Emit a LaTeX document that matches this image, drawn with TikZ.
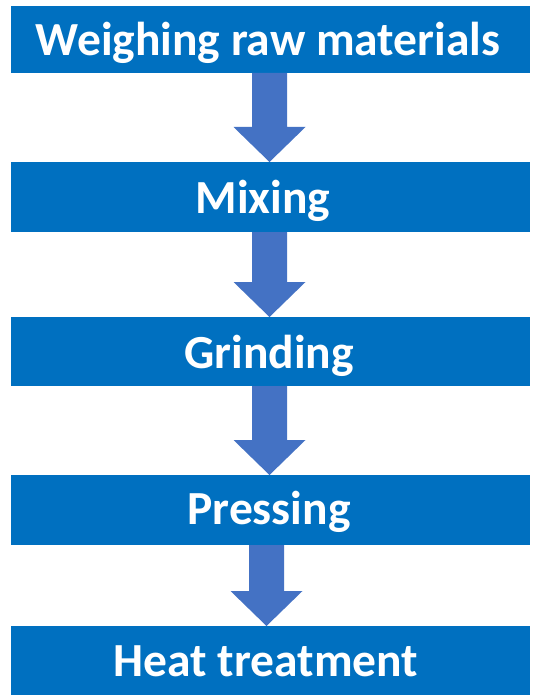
\documentclass[tikz,border=0pt]{standalone}
\usepackage{fontspec}
\setmainfont{Carlito}
\usetikzlibrary{calc}
\definecolor{boxblue}{HTML}{0070C0}
\definecolor{arrowblue}{HTML}{4472C4}
\tikzset{
  x=1pt, y=-1pt,
  stepbox/.style={fill=boxblue, draw=none, minimum width=519pt, inner sep=0pt, outer sep=0pt},
  steptext/.style={text=white, font=\bfseries\fontsize{47.5}{52}\selectfont, inner sep=0pt, anchor=base},
  flowarrow/.style={fill=arrowblue, draw=none}
}
% #1 from node, #2 to node, #3 x offset of arrow axis from box centre
\newcommand{\flowarr}[3]{%
  \fill[flowarrow]
    ($(#1.south)+(#3-17.5,0)$) -- ($(#1.south)+(#3+17.5,0)$)
    -- ($(#2.north)+(#3+17.5,-35)$) -- ($(#2.north)+(#3+36,-35)$)
    -- ($(#2.north)+(#3,0)$)
    -- ($(#2.north)+(#3-36,-35)$) -- ($(#2.north)+(#3-17.5,-35)$) -- cycle;}
\begin{document}
\begin{tikzpicture}
\useasboundingbox (0,0) rectangle (536,695);
\fill[white] (0,0) rectangle (536,695);
\node[stepbox, minimum height=67pt] (b1) at (270.5,39.5) {};
\node[stepbox, minimum height=70pt] (b2) at (270.5,197) {};
\node[stepbox, minimum height=69pt] (b3) at (270.5,351.5) {};
\node[stepbox, minimum height=70pt] (b4) at (270.5,510) {};
\node[stepbox, minimum height=72pt] (b5) at (270.5,662) {};
\node[steptext] (t1) at (268,56) {Weighing raw materials};
\node[steptext] (t2) at (263,213) {Mixing};
\node[steptext] (t3) at (269,368) {Grinding};
\node[steptext] (t4) at (269,524) {Pressing};
\node[steptext] (t5) at (266,676) {Heat treatment};
\flowarr{b1}{b2}{-1}
\flowarr{b2}{b3}{-1}
\flowarr{b3}{b4}{-1}
\flowarr{b4}{b5}{-4}
\end{tikzpicture}
\end{document}
